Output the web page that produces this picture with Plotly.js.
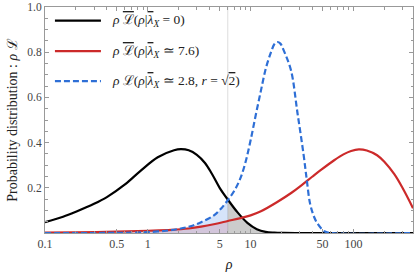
<!DOCTYPE html>
<html>
<head>
<meta charset="utf-8">
<script src="https://cdn.plot.ly/plotly-3.0.1.min.js"></script>
<style>html,body{margin:0;padding:0;background:#fff;}#chart{width:415px;height:276px;}</style>
</head>
<body>
<div id="chart"></div>
<script>
// Black curve: rho * Lbar(rho | lambda_X = 0)
var rhoBlack = [0.1, 0.15, 0.2, 0.3, 0.4, 0.6, 0.85, 1.25, 1.8, 2.1, 2.5, 3.0, 3.6, 4.2, 5.0, 6.0, 7.5, 9.3, 11.5, 14, 17, 21, 30, 60, 150, 380];
var valBlack = [0.048, 0.072, 0.094, 0.129, 0.159, 0.215, 0.275, 0.335, 0.366, 0.371, 0.366, 0.346, 0.31, 0.262, 0.2, 0.148, 0.09, 0.045, 0.017, 0.005, 0.0015, 0.0003, 0, 0, 0, 0];
// Red curve: rho * Lbar(rho | lambda_X ~ 7.6)
var rhoRed = [0.1, 0.2, 0.5, 1, 1.7, 2.5, 3.3, 4.5, 6, 8, 10, 12.6, 18, 25, 31, 40, 48, 65, 80, 95, 113, 135, 170, 200, 250, 300, 380];
var valRed = [0.002, 0.003, 0.006, 0.01, 0.014, 0.02, 0.028, 0.04, 0.053, 0.066, 0.078, 0.096, 0.136, 0.178, 0.21, 0.25, 0.278, 0.322, 0.348, 0.363, 0.37, 0.365, 0.344, 0.315, 0.26, 0.2, 0.11];
// Blue dashed curve: rho * L(rho | lambda_X ~ 2.8, r = sqrt 2)
var rhoBlue = [0.1, 0.5, 0.8, 1, 1.5, 2, 2.6, 3.3, 4.4, 5.2, 6, 7, 8, 9, 10, 11.2, 12.6, 14.1, 15.8, 17, 18.2, 19.5, 20.9, 24.7, 28.6, 32.7, 35.2, 37.9, 41.4, 45, 52, 60, 380];
var valBlue = [0, 0.0005, 0.002, 0.004, 0.01, 0.018, 0.03, 0.048, 0.078, 0.11, 0.145, 0.19, 0.245, 0.32, 0.41, 0.52, 0.63, 0.73, 0.80, 0.835, 0.845, 0.838, 0.81, 0.72, 0.53, 0.35, 0.235, 0.13, 0.072, 0.04, 0.008, 0, 0];
// Threshold
var rhoThreshold = 6;
// Axis ticks
var xTickVals = [0.1, 0.5, 1, 5, 10, 50, 100];
var xTickText = ['0.1', '0.5', '1', '5', '10', '50', '100'];
var xMinorVals = [0.2, 0.3, 0.4, 0.6, 0.7, 0.8, 0.9, 2, 3, 4, 6, 7, 8, 9, 20, 30, 40, 60, 70, 80, 90, 200, 300];
var yTickVals = [0.2, 0.4, 0.6, 0.8, 1.0];
var yTickText = ['0.2', '0.4', '0.6', '0.8', '1.0'];
var OL = function (s) { return '<span style="text-decoration:overline">' + s + '</span>'; };
var legendLabels = [
  '<i>ρ</i> ' + OL('ℒ') + '(<i>ρ</i>|' + OL('<i>λ</i>') + '<sub><i>X</i></sub> = 0)',
  '<i>ρ</i> ' + OL('ℒ') + '(<i>ρ</i>|' + OL('<i>λ</i>') + '<sub><i>X</i></sub> ≃ 7.6)',
  '<i>ρ</i> ℒ(<i>ρ</i>|' + OL('<i>λ</i>') + '<sub><i>X</i></sub> ≃ 2.8, <i>r</i> = √' + OL('2') + ')'
];

function subset(xs, ys, test) {
  var ox = [], oy = [];
  for (var i = 0; i < xs.length; i++) { if (test(xs[i])) { ox.push(xs[i]); oy.push(ys[i]); } }
  return {x: ox, y: oy};
}
var below = function (v) { return v <= rhoThreshold; };
var above = function (v) { return v >= rhoThreshold; };

var fBlue = subset(rhoBlue, valBlue, below);
var fRed = subset(rhoRed, valRed, below);
var fBlack = subset(rhoBlack, valBlack, above);

var colBlack = '#000000', colRed = '#cc2a2a', colBlue = '#2e6fd6';
var traces = [
  {x: fBlue.x, y: fBlue.y, mode: 'lines', line: {width: 0, shape: 'spline'}, fill: 'tozeroy', fillcolor: 'rgba(70,130,230,0.22)', showlegend: false, hoverinfo: 'skip'},
  {x: fRed.x, y: fRed.y, mode: 'lines', line: {width: 0, shape: 'spline'}, fill: 'tozeroy', fillcolor: 'rgba(200,60,80,0.18)', showlegend: false, hoverinfo: 'skip'},
  {x: fBlack.x, y: fBlack.y, mode: 'lines', line: {width: 0, shape: 'spline'}, fill: 'tozeroy', fillcolor: 'rgba(120,120,120,0.38)', showlegend: false, hoverinfo: 'skip'},
  {x: rhoBlack, y: valBlack, mode: 'lines', line: {color: colBlack, width: 2.2, shape: 'spline'}, showlegend: false},
  {x: rhoRed, y: valRed, mode: 'lines', line: {color: colRed, width: 2.2, shape: 'spline'}, showlegend: false},
  {x: rhoBlue, y: valBlue, mode: 'lines', line: {color: colBlue, width: 2.2, shape: 'spline', dash: '6px,3px'}, showlegend: false}
];

var legendColors = [colBlack, colRed, colBlue];
var legendDash = ['solid', 'solid', '6px,3px'];
var legendY = [0.94, 0.805, 0.672];
var shapes = [{type: 'line', xref: 'x', yref: 'paper', x0: rhoThreshold, x1: rhoThreshold, y0: 0, y1: 1, line: {color: '#dddddd', width: 1}, layer: 'below'}];
var annotations = [];
for (var i = 0; i < 3; i++) {
  shapes.push({type: 'line', xref: 'paper', yref: 'paper', x0: 0.027, x1: 0.152, y0: legendY[i], y1: legendY[i], line: {color: legendColors[i], width: 2.2, dash: legendDash[i]}});
  annotations.push({xref: 'paper', yref: 'paper', x: 0.176, y: legendY[i], xanchor: 'left', yanchor: 'middle', showarrow: false, text: legendLabels[i], font: {family: 'Liberation Serif, serif', size: 13.5, color: '#222'}});
}

var layout = {
  width: 415, height: 276,
  margin: {l: 45, r: 2, t: 7, b: 43},
  paper_bgcolor: '#fff', plot_bgcolor: '#fff',
  font: {family: 'Liberation Serif, serif', size: 11.5, color: '#444'},
  xaxis: {
    type: 'log', range: [-1, Math.log10(380)],
    tickmode: 'array', tickvals: xTickVals, ticktext: xTickText,
    ticks: 'inside', ticklen: 4, tickcolor: '#999', tickwidth: 1,
    showline: true, linecolor: '#999', linewidth: 1, mirror: 'allticks',
    showgrid: false, zeroline: false, ticklabeloverflow: 'allow',
    tickfont: {size: 12},
    minor: {tickvals: xMinorVals, ticks: 'inside', ticklen: 2.5, tickcolor: '#999', showgrid: false},
    title: {text: '<i>ρ</i>', font: {family: 'Liberation Serif, serif', size: 14, color: '#222'}, standoff: 8}
  },
  yaxis: {
    range: [0, 1.0],
    tickmode: 'array', tickvals: yTickVals, ticktext: yTickText,
    ticks: 'inside', ticklen: 4, tickcolor: '#999', tickwidth: 1,
    showline: true, linecolor: '#999', linewidth: 1, mirror: 'allticks',
    showgrid: false, zeroline: false, ticklabeloverflow: 'allow',
    minor: {dtick: 0.05, ticks: 'inside', ticklen: 2.5, tickcolor: '#999', showgrid: false},
    title: {text: 'Probability distribution : <i>ρ</i> ℒ', font: {family: 'Liberation Serif, serif', size: 14, color: '#222'}, standoff: 6}
  },
  shapes: shapes,
  annotations: annotations,
  showlegend: false
};

Plotly.newPlot('chart', traces, layout, {staticPlot: true, displayModeBar: false});
</script>
</body>
</html>
